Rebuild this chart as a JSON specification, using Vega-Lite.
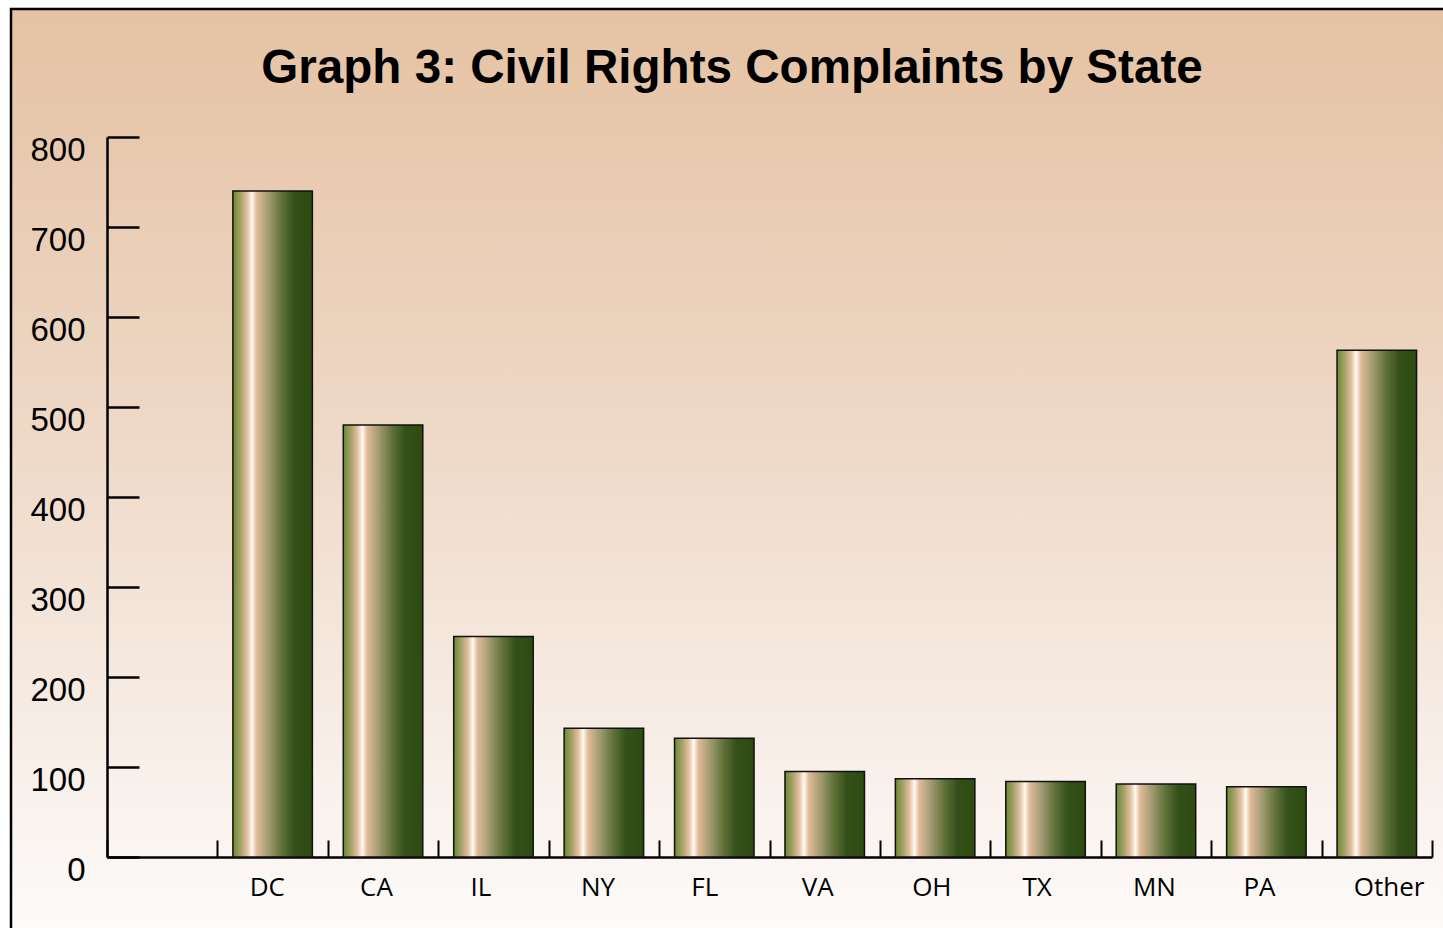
{
  "$schema": "https://vega.github.io/schema/vega-lite/v6.json",
  "width": 1437,
  "height": 924,
  "autosize": {"type": "none"},
  "padding": {"left": 11, "top": 9, "right": -5, "bottom": -5},
  "background": "white",
  "title": {
    "text": "Graph 3: Civil Rights Complaints by State",
    "frame": "group",
    "anchor": "middle",
    "baseline": "alphabetic",
    "offset": -122,
    "dx": 2.5,
    "font": "Liberation Sans",
    "fontSize": 47.6,
    "fontWeight": "bold",
    "color": "black"
  },
  "config": {
    "view": {
      "fill": {
        "gradient": "linear",
        "x1": 0, "y1": 0, "x2": 0, "y2": 1,
        "stops": [
          {"offset": 0, "color": "#e5c2a3"},
          {"offset": 0.45, "color": "#eed8c6"},
          {"offset": 1, "color": "#fdfbfa"}
        ]
      },
      "stroke": "black",
      "strokeWidth": 2.5
    }
  },
  "data": {
    "values": [
      {"state": "DC", "complaints": 740},
      {"state": "CA", "complaints": 480},
      {"state": "IL", "complaints": 245},
      {"state": "NY", "complaints": 143},
      {"state": "FL", "complaints": 132},
      {"state": "VA", "complaints": 95},
      {"state": "OH", "complaints": 87},
      {"state": "TX", "complaints": 84},
      {"state": "MN", "complaints": 81},
      {"state": "PA", "complaints": 78},
      {"state": "Other", "complaints": 563}
    ]
  },
  "mark": {
    "type": "bar",
    "width": {"band": 0.72},
    "stroke": "#111111",
    "strokeWidth": 1.5,
    "fill": {
      "gradient": "linear",
      "x1": 0, "y1": 0, "x2": 1, "y2": 0,
      "stops": [
        {"offset": 0, "color": "#6a8a30"},
        {"offset": 0.1, "color": "#a8a26c"},
        {"offset": 0.18, "color": "#e4c0a0"},
        {"offset": 0.24, "color": "#fffaf2"},
        {"offset": 0.3, "color": "#e2ba9a"},
        {"offset": 0.45, "color": "#a09a70"},
        {"offset": 0.62, "color": "#5f7038"},
        {"offset": 0.78, "color": "#33501a"},
        {"offset": 1, "color": "#2d4b10"}
      ]
    }
  },
  "encoding": {
    "x": {
      "field": "state",
      "type": "nominal",
      "sort": null,
      "scale": {
        "domain": [" ", "DC", "CA", "IL", "NY", "FL", "VA", "OH", "TX", "MN", "PA", "Other"],
        "range": [96, 1421],
        "paddingInner": 0,
        "paddingOuter": 0
      },
      "axis": {
        "title": null,
        "orient": "bottom",
        "offset": -76,
        "tickBand": "extent",
        "tickSize": -17,
        "tickWidth": 2,
        "tickColor": "black",
        "domainColor": "black",
        "domainWidth": 2.5,
        "labelAngle": 0,
        "labelAlign": "left",
        "labelBaseline": "top",
        "labelOffset": -23.5,
        "labelPadding": 34.5,
        "labelFont": "Open Sans",
        "labelFontSize": 26,
        "labelColor": "black",
        "grid": false
      }
    },
    "y": {
      "field": "complaints",
      "type": "quantitative",
      "scale": {"domain": [0, 800], "range": [848, 128], "nice": false},
      "axis": {
        "title": null,
        "orient": "left",
        "offset": -96,
        "values": [0, 100, 200, 300, 400, 500, 600, 700, 800],
        "tickSize": -32,
        "tickWidth": 2.5,
        "tickColor": "black",
        "domainColor": "black",
        "domainWidth": 2.5,
        "labelBaseline": "top",
        "labelAlign": "right",
        "labelOffset": -3,
        "labelPadding": 54,
        "labelFont": "Liberation Sans",
        "labelFontSize": 33,
        "labelColor": "black",
        "grid": false
      }
    }
  }
}
